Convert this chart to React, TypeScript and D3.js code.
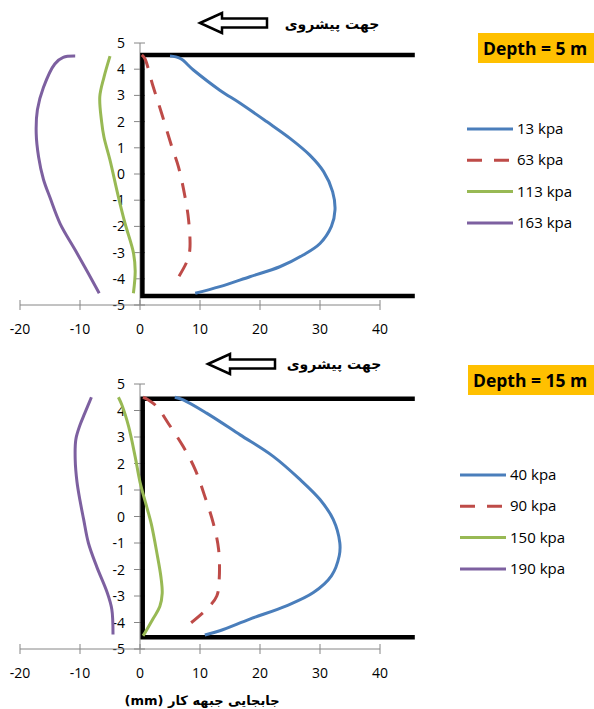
import React, { useRef, useEffect } from "react";
import * as d3 from "d3";

// displacement of the face (mm) vs. height on the face (m)
const xTicks = [-20, -10, 0, 10, 20, 30, 40];
const yTicks = [-5, -4, -3, -2, -1, 0, 1, 2, 3, 4, 5];

const topNames = ["13 kpa", "63 kpa", "113 kpa", "163 kpa"];
const bottomNames = ["40 kpa", "90 kpa", "150 kpa", "190 kpa"];
const topLabel = "Depth = 5 m";
const bottomLabel = "Depth = 15 m";
const arrowTitle = "جهت پیشروی";
const xTitle = "جابجایی جبهه کار (mm)";

// depth = 5 m
const top13 = [[5, 4.5], [6.7, 4.41], [8.9, 3.97], [13.3, 3.2], [16.7, 2.7], [21.1, 2.0], [25, 1.36], [28.3, 0.72], [30.6, 0.09], [32.1, -0.67], [32.5, -1.37], [31.9, -2.0], [30, -2.65], [27.2, -3.09], [23.3, -3.54], [18.3, -3.92], [13.3, -4.3], [9.2, -4.55]];
const top63 = [[0.3, 4.55], [0.8, 4.41], [2.2, 3.33], [3.6, 2.32], [5.3, 1.04], [6.4, 0.28], [7.5, -0.87], [8.1, -1.76], [8.3, -2.9], [7.8, -3.35], [5.6, -4.24]];
const top113 = [[-5, 4.5], [-6.0, 3.7], [-6.7, 2.95], [-6.4, 2.0], [-6.0, 1.4], [-5, 0.53], [-3.6, -0.87], [-2.5, -1.88], [-1.1, -3], [-0.8, -3.7], [-1.1, -4.55]];
const top163 = [[-10.8, 4.5], [-12.8, 4.45], [-14.2, 4.2], [-16.1, 3.3], [-17.1, 2.45], [-17.3, 1.55], [-16.9, 0.65], [-16.1, -0.2], [-15, -0.9], [-13.3, -1.9], [-10.8, -2.9], [-8.6, -3.8], [-6.8, -4.55]];
const topFrame = [[45.8, 4.54], [0.4, 4.54], [0.4, -4.66], [45.8, -4.66]];

// depth = 15 m
const bottom40 = [[5.8, 4.5], [7.2, 4.4], [11.1, 3.9], [16.7, 3.08], [22.2, 2.27], [26.7, 1.39], [30, 0.64], [32.2, -0.11], [33.3, -0.99], [33.2, -1.49], [31.9, -2.24], [28.9, -2.87], [24.4, -3.37], [18.3, -3.87], [13.3, -4.31], [10.8, -4.47]];
const bottom90 = [[0.5, 4.5], [1.4, 4.4], [2.8, 4.15], [4.7, 3.52], [7.2, 2.64], [9.2, 1.77], [10.8, 0.76], [12.2, -0.24], [13.1, -1.24], [13.2, -2.37], [12.8, -3.0], [11.1, -3.5], [7.2, -4.25]];
const bottom150 = [[-3.6, 4.5], [-3.0, 4.2], [-1.9, 3.4], [-0.8, 2.25], [0, 1.3], [1.2, 0.3], [1.9, -0.3], [2.8, -1.36], [3.5, -2.3], [3.7, -2.9], [3.3, -3.4], [2.2, -3.85], [0.8, -4.4], [0.5, -4.5]];
const bottom190 = [[-8.1, 4.5], [-9.2, 3.9], [-10, 3.45], [-10.7, 2.9], [-10.8, 2.15], [-10.5, 1.3], [-10, 0.6], [-9.4, -0.1], [-8.6, -1], [-7.2, -1.9], [-5.5, -2.85], [-4.7, -3.5], [-4.5, -4.45]];
const bottomFrame = [[45.8, 4.44], [0.45, 4.44], [0.45, -4.56], [45.8, -4.56]];

const colors = ["#4a7ebb", "#be4b48", "#98b954", "#7d60a0"];
const dashes = [null, "15 12", null, null];

const font = "'Open Sans', sans-serif";
const faFont = "'DejaVu Sans', sans-serif";

const App = () => {
  let ref = useRef(null);

  useEffect(() => {
    let svg = d3.select(ref.current);
    svg.selectAll("*").remove();

    let x = d3.scaleLinear().domain([-20, 40]).range([20, 380]);

    let panels = [
      { range: [305, 43], series: [top13, top63, top113, top163], names: topNames, frame: topFrame, label: topLabel, lbl: [478, 33, 55], arrow: [200, 23], title: [332, 29], leg: [467, 129, 31.3] },
      { range: [649, 384], series: [bottom40, bottom90, bottom150, bottom190], names: bottomNames, frame: bottomFrame, label: bottomLabel, lbl: [468, 365, 387], arrow: [208, 364], title: [334, 369], leg: [460, 475, 31.3] }
    ];

    panels.forEach(p => {
      let y = d3.scaleLinear().domain([-5, 5]).range(p.range);
      let g = svg.append("g");
      let axisColor = "#868686";

      // y axis crossing at x = 0
      g.append("line")
        .attr("x1", x(0)).attr("x2", x(0))
        .attr("y1", y(-5)).attr("y2", y(5))
        .attr("stroke", axisColor);
      g.selectAll(".yt").data(yTicks).enter().append("line")
        .attr("x1", x(0) - 6).attr("x2", x(0) + 5)
        .attr("y1", d => y(d)).attr("y2", d => y(d))
        .attr("stroke", axisColor);
      g.selectAll(".yl").data(yTicks).enter().append("text")
        .attr("x", x(0) - 15).attr("y", d => y(d)).attr("dy", "0.36em")
        .attr("text-anchor", "end")
        .style("font-family", font).style("font-size", "14px").attr("fill", "#000")
        .text(d => d);

      // x axis at y = -5
      g.append("line")
        .attr("x1", x(-20)).attr("x2", x(40))
        .attr("y1", y(-5)).attr("y2", y(-5))
        .attr("stroke", axisColor);
      g.selectAll(".xt").data(xTicks).enter().append("line")
        .attr("x1", d => x(d)).attr("x2", d => x(d))
        .attr("y1", y(-5) - 5).attr("y2", y(-5) + 5)
        .attr("stroke", axisColor);
      g.selectAll(".xl").data(xTicks).enter().append("text")
        .attr("x", d => x(d)).attr("y", y(-5) + 29)
        .attr("text-anchor", "middle")
        .style("font-family", font).style("font-size", "14px").attr("fill", "#000")
        .text(d => d);

      let line = d3.line()
        .x(d => x(d[0]))
        .y(d => y(d[1]));

      // face frame
      g.append("path")
        .attr("d", line(p.frame))
        .attr("fill", "none")
        .attr("stroke", "#000")
        .attr("stroke-width", 4.5)
        .attr("stroke-linejoin", "miter");

      let smooth = line.curve(d3.curveCatmullRom.alpha(0.5));
      p.series.forEach((s, i) => {
        g.append("path")
          .attr("d", smooth(s))
          .attr("fill", "none")
          .attr("stroke", colors[i])
          .attr("stroke-width", 3)
          .attr("stroke-dasharray", dashes[i]);
      });

      // legend
      p.names.forEach((n, i) => {
        let ly = p.leg[1] + i * p.leg[2];
        g.append("line")
          .attr("x1", p.leg[0]).attr("x2", p.leg[0] + 46)
          .attr("y1", ly).attr("y2", ly)
          .attr("stroke", colors[i]).attr("stroke-width", 3)
          .attr("stroke-dasharray", dashes[i]);
        g.append("text")
          .attr("x", p.leg[0] + 50).attr("y", ly + 5)
          .style("font-family", font).style("font-size", "15px").attr("fill", "#000")
          .text(n);
      });

      // depth tag
      g.append("rect")
        .attr("x", p.lbl[0]).attr("y", p.lbl[1])
        .attr("width", 594 - p.lbl[0]).attr("height", 30)
        .attr("fill", "#ffc000");
      g.append("text")
        .attr("x", p.lbl[0] + 5).attr("y", p.lbl[2])
        .style("font-family", font).style("font-size", "17.5px").style("font-weight", "bold")
        .attr("fill", "#000")
        .text(p.label);

      // advance direction arrow
      let ax = p.arrow[0], ay = p.arrow[1];
      g.append("path")
        .attr("d", `M${ax},${ay} L${ax + 22},${ay - 10} L${ax + 22},${ay - 4.5} L${ax + 67},${ay - 4.5} L${ax + 67},${ay + 4.5} L${ax + 22},${ay + 4.5} L${ax + 22},${ay + 10} Z`)
        .attr("fill", "#fff").attr("stroke", "#000").attr("stroke-width", 2.5);
      g.append("text")
        .attr("x", p.title[0]).attr("y", p.title[1])
        .attr("text-anchor", "middle")
        .style("font-family", faFont).style("font-size", "14px").style("font-weight", "bold")
        .attr("fill", "#000")
        .text(arrowTitle);
    });

    svg.append("text")
      .attr("x", 202).attr("y", 705)
      .attr("text-anchor", "middle")
      .attr("direction", "rtl")
      .style("font-family", faFont).style("font-size", "13px").style("font-weight", "bold")
      .attr("fill", "#000")
      .text(xTitle);
  }, []);

  return (
    <svg
      ref={ref}
      width={594}
      height={709}
      style={{ position: "absolute", left: 0, top: 0, background: "#fff" }}
    />
  );
};

export default App;
